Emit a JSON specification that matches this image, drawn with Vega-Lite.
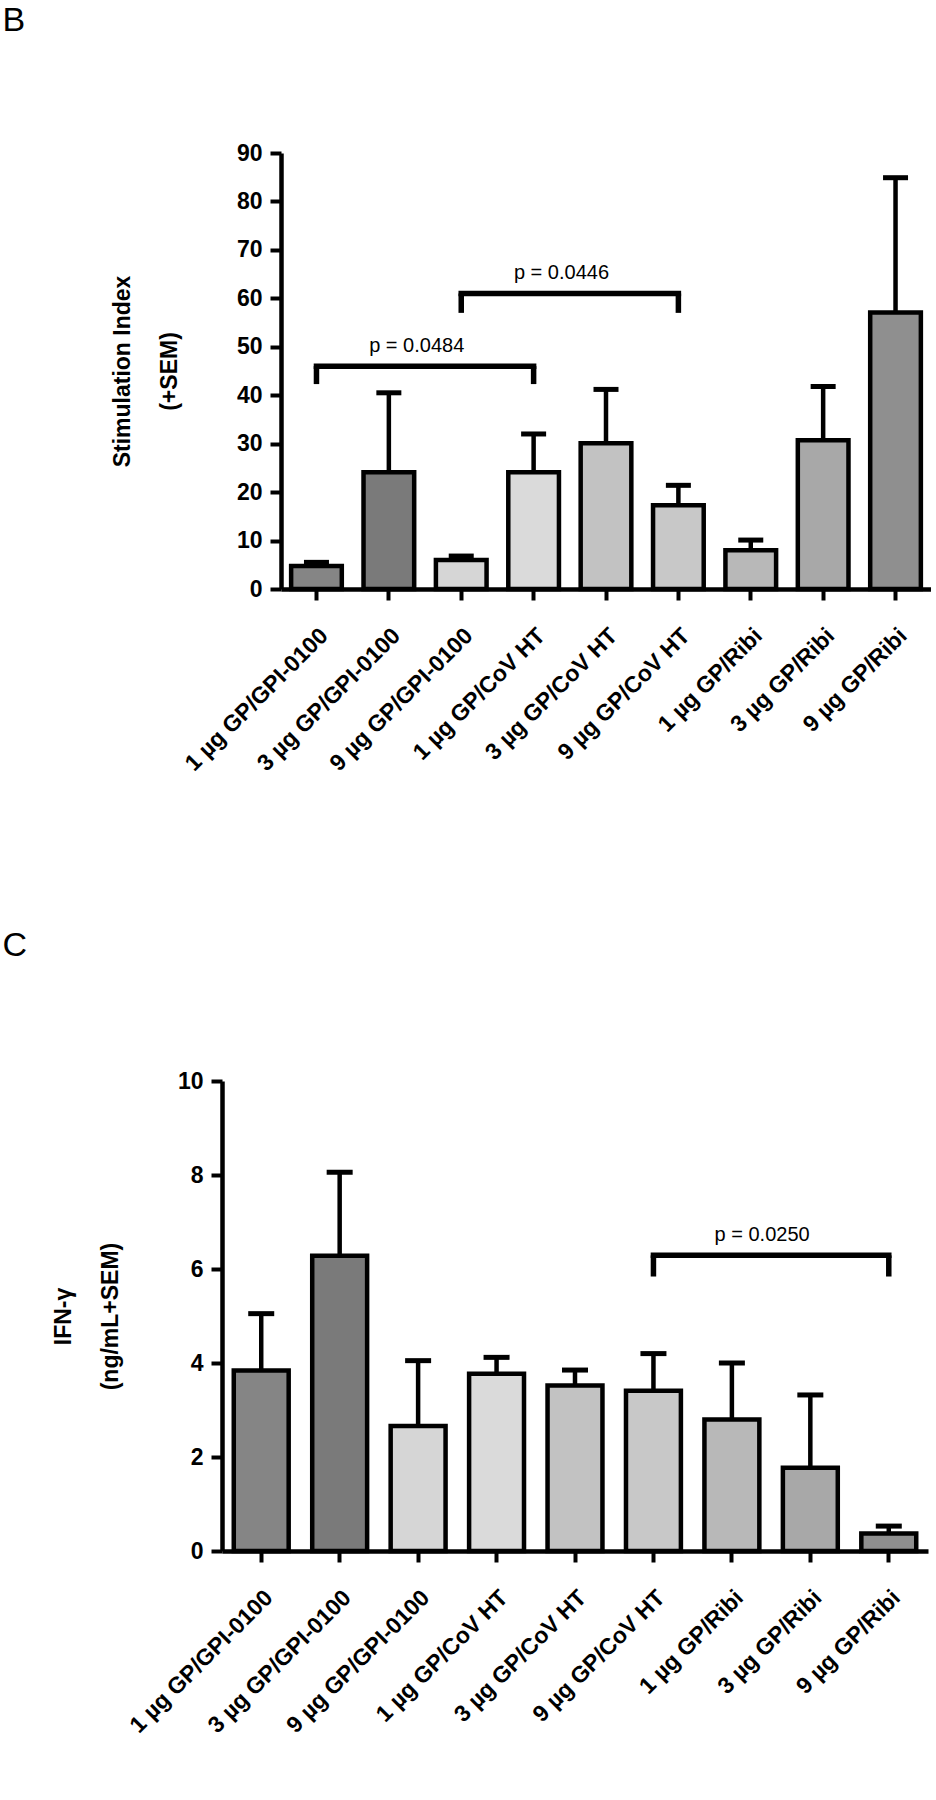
{
  "$schema": "https://vega.github.io/schema/vega-lite/v6.json",
  "padding": {"left": 2, "top": 4, "right": 0, "bottom": 0},
  "background": "white",
  "datasets": {
    "stim": [
      {"group": "1 µg GP/GPI-0100", "mean": 4.75, "upper": 5.5},
      {"group": "3 µg GP/GPI-0100", "mean": 24.1, "upper": 40.5},
      {"group": "9 µg GP/GPI-0100", "mean": 6.0, "upper": 6.8},
      {"group": "1 µg GP/CoV HT", "mean": 24.1, "upper": 32.0},
      {"group": "3 µg GP/CoV HT", "mean": 30.1, "upper": 41.2},
      {"group": "9 µg GP/CoV HT", "mean": 17.3, "upper": 21.4},
      {"group": "1 µg GP/Ribi", "mean": 8.0, "upper": 10.1},
      {"group": "3 µg GP/Ribi", "mean": 30.7, "upper": 41.8},
      {"group": "9 µg GP/Ribi", "mean": 57.1, "upper": 84.9}
    ],
    "stimBrackets": [
      {"from": "1 µg GP/GPI-0100", "to": "1 µg GP/CoV HT", "mid": "3 µg GP/GPI-0100", "level": 46.0, "leg": 42.3, "label": "p = 0.0484"},
      {"from": "9 µg GP/GPI-0100", "to": "9 µg GP/CoV HT", "mid": "1 µg GP/CoV HT", "level": 61.0, "leg": 57.0, "label": "p = 0.0446"}
    ],
    "ifn": [
      {"group": "1 µg GP/GPI-0100", "mean": 3.84, "upper": 5.05},
      {"group": "3 µg GP/GPI-0100", "mean": 6.28, "upper": 8.06},
      {"group": "9 µg GP/GPI-0100", "mean": 2.66, "upper": 4.05},
      {"group": "1 µg GP/CoV HT", "mean": 3.77, "upper": 4.12},
      {"group": "3 µg GP/CoV HT", "mean": 3.52, "upper": 3.85},
      {"group": "9 µg GP/CoV HT", "mean": 3.41, "upper": 4.2},
      {"group": "1 µg GP/Ribi", "mean": 2.8, "upper": 4.0},
      {"group": "3 µg GP/Ribi", "mean": 1.77, "upper": 3.32},
      {"group": "9 µg GP/Ribi", "mean": 0.37, "upper": 0.53}
    ],
    "ifnBrackets": [
      {"from": "9 µg GP/CoV HT", "to": "9 µg GP/Ribi", "mid": "1 µg GP/Ribi", "level": 6.29, "leg": 5.84, "label": "p = 0.0250"}
    ]
  },
  "columns": 1,
  "align": "none",
  "spacing": 153,
  "concat": [
    {
      "title": {"text": "B", "anchor": "start", "frame": "bounds", "dx": -109, "offset": 104, "fontSize": 34, "fontWeight": "normal", "font": "Liberation Sans", "color": "black"},
      "width": 709,
      "height": 436,
      "layer": [
        {
          "data": {"name": "stim"},
          "mark": {"type": "bar", "stroke": "black", "strokeWidth": 4.5},
          "encoding": {
            "x": {"field": "group", "type": "nominal", "title": null,
              "scale": {"domain": ["1 µg GP/GPI-0100", "3 µg GP/GPI-0100", "9 µg GP/GPI-0100", "1 µg GP/CoV HT", "3 µg GP/CoV HT", "9 µg GP/CoV HT", "1 µg GP/Ribi", "3 µg GP/Ribi", "9 µg GP/Ribi"], "range": [59, 709], "paddingInner": 0.3, "paddingOuter": 0.14}},
            "y": {"field": "mean", "type": "quantitative", "title": ["Stimulation Index", "(+SEM)"],
              "scale": {"domain": [0, 90], "nice": false},
              "axis": {"values": [0, 10, 20, 30, 40, 50, 60, 70, 80, 90], "titlePadding": 55, "offset": -59}},
            "color": {"field": "group", "type": "nominal", "legend": null,
              "scale": {"domain": ["1 µg GP/GPI-0100", "3 µg GP/GPI-0100", "9 µg GP/GPI-0100", "1 µg GP/CoV HT", "3 µg GP/CoV HT", "9 µg GP/CoV HT", "1 µg GP/Ribi", "3 µg GP/Ribi", "9 µg GP/Ribi"],
                "range": ["#858585", "#7a7a7a", "#d6d6d6", "#dadada", "#c2c2c2", "#c8c8c8", "#b8b8b8", "#a8a8a8", "#8f8f8f"]}}
          }
        },
        {
          "data": {"name": "stim"},
          "mark": {"type": "rule", "color": "black", "strokeWidth": 4.5},
          "encoding": {
            "x": {"field": "group", "type": "nominal"},
            "y": {"field": "mean", "type": "quantitative"},
            "y2": {"field": "upper"}
          }
        },
        {
          "data": {"name": "stim"},
          "mark": {"type": "tick", "color": "black", "thickness": 5, "size": 25, "opacity": 1},
          "encoding": {
            "x": {"field": "group", "type": "nominal"},
            "y": {"field": "upper", "type": "quantitative"}
          }
        },
        {
          "data": {"name": "stimBrackets"},
          "mark": {"type": "rule", "color": "black", "strokeWidth": 5.5, "strokeCap": "square"},
          "encoding": {
            "x": {"field": "from", "type": "nominal"},
            "x2": {"field": "to"},
            "y": {"field": "level", "type": "quantitative"}
          }
        },
        {
          "data": {"name": "stimBrackets"},
          "mark": {"type": "rule", "color": "black", "strokeWidth": 5.5},
          "encoding": {
            "x": {"field": "from", "type": "nominal"},
            "y": {"field": "level", "type": "quantitative"},
            "y2": {"field": "leg"}
          }
        },
        {
          "data": {"name": "stimBrackets"},
          "mark": {"type": "rule", "color": "black", "strokeWidth": 5.5},
          "encoding": {
            "x": {"field": "to", "type": "nominal"},
            "y": {"field": "level", "type": "quantitative"},
            "y2": {"field": "leg"}
          }
        },
        {
          "data": {"name": "stimBrackets"},
          "mark": {"type": "text", "font": "Liberation Sans", "fontSize": 20, "color": "black", "baseline": "alphabetic", "align": "center", "dy": -14},
          "encoding": {
            "x": {"field": "mid", "type": "nominal", "bandPosition": 1.05},
            "y": {"field": "level", "type": "quantitative"},
            "text": {"field": "label"}
          }
        }
      ]
    },
    {
      "title": {"text": "C", "anchor": "start", "frame": "bounds", "dx": -50, "offset": 107, "fontSize": 34, "fontWeight": "normal", "font": "Liberation Sans", "color": "black"},
      "width": 706,
      "height": 470,
      "layer": [
        {
          "data": {"name": "ifn"},
          "mark": {"type": "bar", "stroke": "black", "strokeWidth": 4.5},
          "encoding": {
            "x": {"field": "group", "type": "nominal", "title": null,
              "scale": {"domain": ["1 µg GP/GPI-0100", "3 µg GP/GPI-0100", "9 µg GP/GPI-0100", "1 µg GP/CoV HT", "3 µg GP/CoV HT", "9 µg GP/CoV HT", "1 µg GP/Ribi", "3 µg GP/Ribi", "9 µg GP/Ribi"], "paddingInner": 0.3, "paddingOuter": 0.15}},
            "y": {"field": "mean", "type": "quantitative", "title": ["IFN-γ", "(ng/mL+SEM)"],
              "scale": {"domain": [0, 10], "nice": false},
              "axis": {"values": [0, 2, 4, 6, 8, 10], "titlePadding": 55}},
            "color": {"field": "group", "type": "nominal", "legend": null,
              "scale": {"domain": ["1 µg GP/GPI-0100", "3 µg GP/GPI-0100", "9 µg GP/GPI-0100", "1 µg GP/CoV HT", "3 µg GP/CoV HT", "9 µg GP/CoV HT", "1 µg GP/Ribi", "3 µg GP/Ribi", "9 µg GP/Ribi"],
                "range": ["#858585", "#7a7a7a", "#d6d6d6", "#dadada", "#c2c2c2", "#c8c8c8", "#b8b8b8", "#a8a8a8", "#8f8f8f"]}}
          }
        },
        {
          "data": {"name": "ifn"},
          "mark": {"type": "rule", "color": "black", "strokeWidth": 4.5},
          "encoding": {
            "x": {"field": "group", "type": "nominal"},
            "y": {"field": "mean", "type": "quantitative"},
            "y2": {"field": "upper"}
          }
        },
        {
          "data": {"name": "ifn"},
          "mark": {"type": "tick", "color": "black", "thickness": 5, "size": 26, "opacity": 1},
          "encoding": {
            "x": {"field": "group", "type": "nominal"},
            "y": {"field": "upper", "type": "quantitative"}
          }
        },
        {
          "data": {"name": "ifnBrackets"},
          "mark": {"type": "rule", "color": "black", "strokeWidth": 5.5, "strokeCap": "square"},
          "encoding": {
            "x": {"field": "from", "type": "nominal"},
            "x2": {"field": "to"},
            "y": {"field": "level", "type": "quantitative"}
          }
        },
        {
          "data": {"name": "ifnBrackets"},
          "mark": {"type": "rule", "color": "black", "strokeWidth": 5.5},
          "encoding": {
            "x": {"field": "from", "type": "nominal"},
            "y": {"field": "level", "type": "quantitative"},
            "y2": {"field": "leg"}
          }
        },
        {
          "data": {"name": "ifnBrackets"},
          "mark": {"type": "rule", "color": "black", "strokeWidth": 5.5},
          "encoding": {
            "x": {"field": "to", "type": "nominal"},
            "y": {"field": "level", "type": "quantitative"},
            "y2": {"field": "leg"}
          }
        },
        {
          "data": {"name": "ifnBrackets"},
          "mark": {"type": "text", "font": "Liberation Sans", "fontSize": 20, "color": "black", "baseline": "alphabetic", "align": "center", "dy": -14},
          "encoding": {
            "x": {"field": "mid", "type": "nominal", "bandPosition": 1.05},
            "y": {"field": "level", "type": "quantitative"},
            "text": {"field": "label"}
          }
        }
      ]
    }
  ],
  "config": {
    "font": "Liberation Sans",
    "view": {"stroke": null},
    "axis": {
      "grid": false,
      "domainColor": "black",
      "tickColor": "black",
      "labelColor": "black",
      "titleColor": "black",
      "labelFont": "Liberation Sans",
      "titleFont": "Liberation Sans",
      "labelFontWeight": "bold",
      "titleFontWeight": "bold",
      "labelFontSize": 23,
      "titleFontSize": 23,
      "titleLineHeight": 47,
      "domainWidth": 4.5,
      "tickWidth": 4,
      "tickSize": 11,
      "labelPadding": 8
    },
    "axisX": {
      "labelAngle": -45,
      "labelAlign": "right",
      "labelBaseline": "top",
      "labelPadding": 24,
      "tickSize": 11,
      "labelLimit": 0
    },
    "axisY": {
      "titleAngle": -90
    }
  }
}
